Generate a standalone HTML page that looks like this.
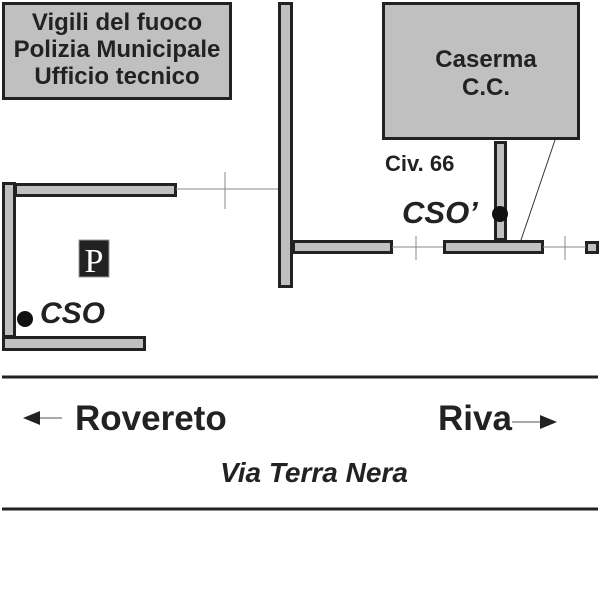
<!DOCTYPE html>
<html><head><style>body{margin:0;background:#fff}svg{display:block}</style></head><body>
<svg width="600" height="600" viewBox="0 0 600 600" xmlns="http://www.w3.org/2000/svg" font-family="Liberation Sans, sans-serif" font-weight="bold">
<g fill="#c0c0c0" stroke="#222" stroke-width="3">
<rect x="3.5" y="3.5" width="227" height="95"/>
<rect x="383.5" y="3.5" width="195" height="135"/>
<rect x="279.5" y="3.5" width="12" height="283"/>
<rect x="3.5" y="183.5" width="11" height="153"/>
<rect x="15.5" y="184.5" width="160" height="11"/>
<rect x="3.5" y="337.5" width="141" height="12"/>
<rect x="293.5" y="241.5" width="98" height="11"/>
<rect x="444.5" y="241.5" width="98" height="11"/>
<rect x="495.5" y="142.5" width="10" height="97"/>
<rect x="586.5" y="242.5" width="11" height="10"/>
</g>
<g stroke="#888" stroke-width="1">
<line x1="176" y1="189" x2="278" y2="189"/><line x1="225" y1="172" x2="225" y2="209"/>
<line x1="392" y1="247" x2="443" y2="247"/><line x1="416" y1="236" x2="416" y2="260"/>
<line x1="543" y1="247" x2="586" y2="247"/><line x1="565" y1="236" x2="565" y2="260"/>
</g>
<line x1="555" y1="140" x2="521" y2="240" stroke="#333" stroke-width="1"/>
<circle cx="500" cy="214" r="8" fill="#111"/>
<circle cx="25" cy="319" r="8" fill="#111"/>
<rect x="79" y="240" width="30" height="37" fill="#222" stroke="#999" stroke-width="1"/>
<text x="94" y="272" text-anchor="middle" font-family="Liberation Serif, serif" font-weight="normal" font-size="34" fill="#fff">P</text>
<g fill="#222" text-anchor="middle" font-size="24">
<text x="117" y="30">Vigili del fuoco</text>
<text x="117" y="57">Polizia Municipale</text>
<text x="117" y="84">Ufficio tecnico</text>
<text x="486" y="67">Caserma</text>
<text x="486" y="95">C.C.</text>
</g>
<text x="385" y="171" font-size="22" fill="#222">Civ. 66</text>
<text x="402" y="223" font-size="31" font-style="italic" fill="#222">CSO’</text>
<text x="40" y="323" font-size="30" font-style="italic" fill="#222">CSO</text>
<line x1="2" y1="377" x2="598" y2="377" stroke="#222" stroke-width="3"/>
<line x1="2" y1="509" x2="598" y2="509" stroke="#222" stroke-width="3"/>
<text x="75" y="430" font-size="35" fill="#222">Rovereto</text>
<text x="438" y="430" font-size="35" fill="#222">Riva</text>
<text x="314" y="482" text-anchor="middle" font-size="28" font-style="italic" fill="#222">Via Terra Nera</text>
<line x1="38" y1="418" x2="62" y2="418" stroke="#555" stroke-width="1"/>
<polygon points="23,418 40,411 40,425" fill="#222"/>
<line x1="512" y1="422" x2="540" y2="422" stroke="#555" stroke-width="1"/>
<polygon points="557,422 540,415 540,429" fill="#222"/>
</svg>
</body></html>
